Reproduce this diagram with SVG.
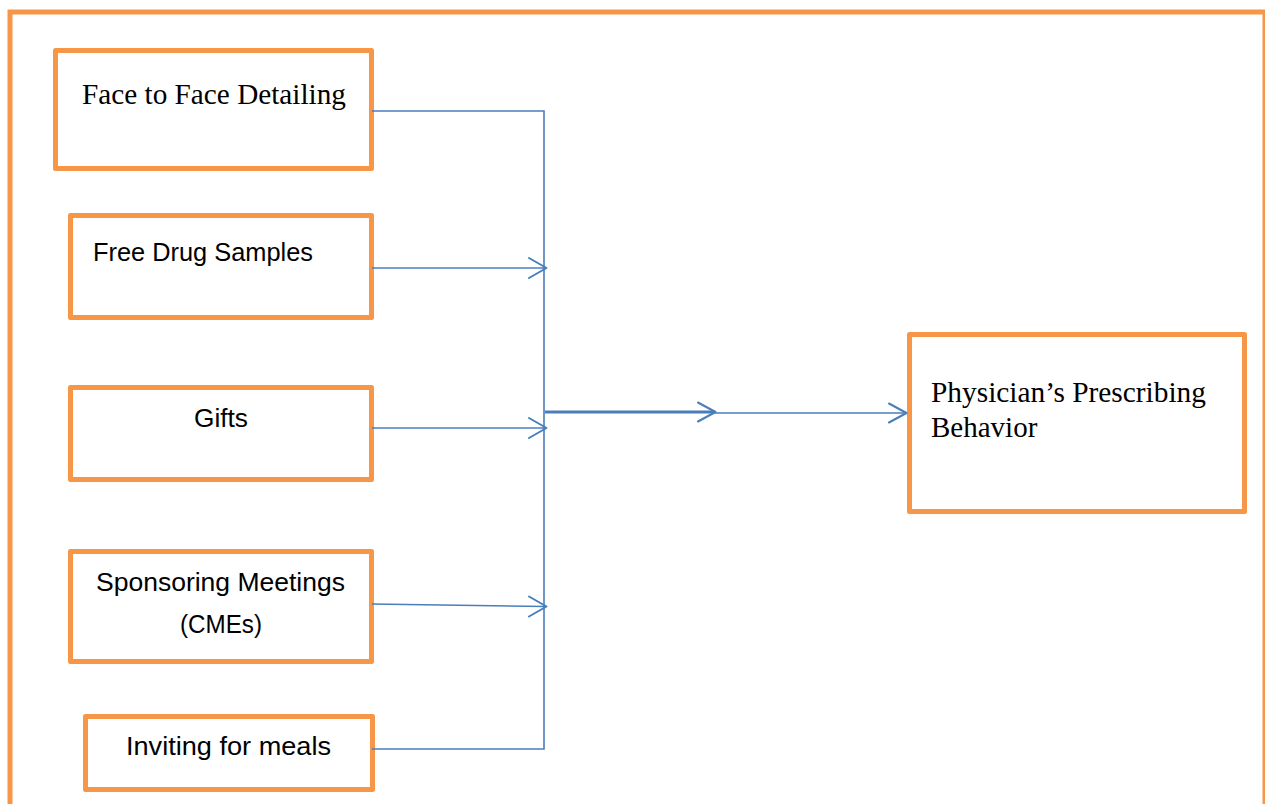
<svg xmlns="http://www.w3.org/2000/svg" width="1265" height="804" viewBox="0 0 1265 804">
<style>
.box{fill:#fff;stroke:#f79646;stroke-width:5;stroke-linejoin:round}
.frame{fill:none;stroke:#f79646;stroke-width:5}
.ser{font-family:"Liberation Serif","Times New Roman",serif;font-size:29px;fill:#000}
.san{font-family:"Liberation Sans",Arial,sans-serif;font-size:25px;fill:#000}
.ln{fill:none;stroke:#4a7ebb;stroke-width:1.6}
.thick{fill:none;stroke:#4a7ebb;stroke-width:3}
.ah{fill:none;stroke:#4a7ebb;stroke-width:2;stroke-linecap:round;stroke-linejoin:round}
</style>
<rect width="1265" height="804" fill="#fff"/>
<path class="frame" d="M10,804 V12 H1265 V804"/>
<g id="n1"><rect class="box" x="55.5" y="50.5" width="316" height="118"/><text class="ser" x="82" y="104" textLength="264" lengthAdjust="spacingAndGlyphs">Face to Face Detailing</text></g>
<g id="n2"><rect class="box" x="70.5" y="215.5" width="301" height="102"/><text class="san" x="93" y="261" textLength="220" lengthAdjust="spacingAndGlyphs">Free Drug Samples</text></g>
<g id="n3"><rect class="box" x="70.5" y="387.5" width="301" height="92"/><text class="san" x="194" y="426.5" textLength="54" lengthAdjust="spacingAndGlyphs">Gifts</text></g>
<g id="n4"><rect class="box" x="70.5" y="551.5" width="301" height="110"/><text class="san" x="96" y="590.5" textLength="249" lengthAdjust="spacingAndGlyphs">Sponsoring Meetings</text><text class="san" x="180" y="633" textLength="82" lengthAdjust="spacingAndGlyphs">(CMEs)</text></g>
<g id="n5"><rect class="box" x="85.5" y="716.5" width="287" height="73"/><text class="san" x="126" y="755" textLength="205" lengthAdjust="spacingAndGlyphs">Inviting for meals</text></g>
<g id="n6"><rect class="box" x="909.5" y="334.5" width="335" height="177"/><text class="ser" x="931" y="402" textLength="275" lengthAdjust="spacingAndGlyphs">Physician’s Prescribing</text><text class="ser" x="931" y="437">Behavior</text></g>
<g id="connectors">
<path class="ln" d="M372,111 H544 V749 H372"/>
<path class="ln" d="M372,268 H546"/>
<path class="ah" d="M529,258 L546.5,268 L529,278"/>
<path class="ln" d="M372,428 H546"/>
<path class="ah" d="M529,418 L546.5,428 L529,438"/>
<path class="ln" d="M372,604 L546,606.5"/>
<path class="ah" d="M529,596.5 L546.5,606.5 L529,616.5"/>
<path class="thick" d="M545,412 H715"/>
<path class="ah" d="M698,402.5 L715.5,412 L698,421.5"/>
<path class="ln" d="M715,413 H906"/>
<path class="ah" d="M889,403.5 L906.5,413 L889,422.5"/>
</g>
</svg>
